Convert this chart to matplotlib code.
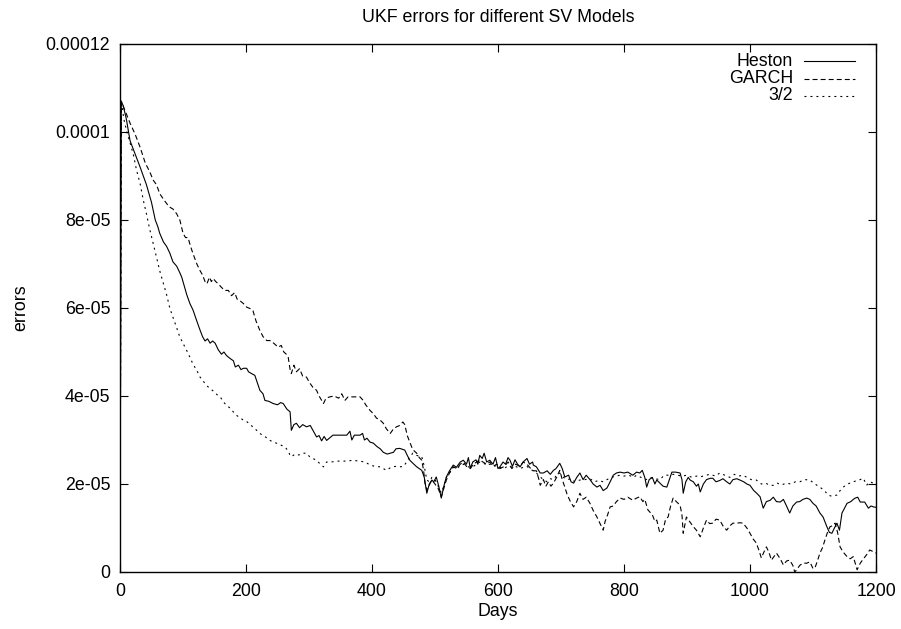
import numpy as np
import matplotlib.pyplot as plt

plt.rcParams['font.family'] = ['Liberation Sans', 'DejaVu Sans']
plt.rcParams['lines.scale_dashes'] = False

# values are in units of 1e-5
heston_days = [0, 2, 5, 10, 16, 24, 32, 42, 50, 56, 60, 63, 69, 74, 79, 84, 90, 95, 98, 102,
               106, 111, 116, 122, 127, 131, 135, 139, 143, 147, 151, 156, 161, 165, 169, 175,
               180, 183, 188, 192, 196, 201, 204, 210, 214, 218, 222, 227, 230, 236, 243, 250,
               255, 259, 265, 270, 272, 276, 280, 285, 290, 296, 302, 307, 312, 316, 320, 324,
               328, 333, 338, 350, 360, 365, 368, 372, 381, 385, 388, 392, 397, 402, 408, 413,
               418, 424, 429, 434, 438, 444, 452, 456, 460, 465, 471, 475, 479, 483, 487, 490,
               495, 498, 502, 506, 510, 514, 518, 523, 529, 534, 540, 545, 550, 553, 556, 560,
               565, 568, 571, 575, 578, 582, 587, 592, 596, 600, 603, 608, 612, 616, 619, 623,
               627, 631, 635, 640, 646, 650, 655, 656, 661, 667, 672, 678, 683, 688, 692, 698,
               702, 706, 712, 716, 720, 725, 730, 735, 740, 746, 751, 757, 762, 767, 773, 778,
               783, 788, 794, 800, 806, 814, 820, 825, 829, 833, 836, 840, 845, 849, 852, 857,
               862, 868, 872, 876, 882, 889, 892, 894, 898, 902, 905, 910, 915, 918, 921, 926,
               931, 937, 941, 946, 952, 957, 963, 968, 973, 979, 984, 990, 995, 1000, 1006, 1010,
               1016, 1021, 1026, 1032, 1037, 1042, 1048, 1053, 1058, 1063, 1068, 1074, 1079, 1084,
               1090, 1095, 1100, 1105, 1111, 1116, 1122, 1126, 1130, 1134, 1138, 1142, 1146, 1150,
               1154, 1160, 1164, 1167, 1171, 1175, 1182, 1188, 1192, 1196, 1200]
heston_err = [0, 10.7, 10.6, 10.3, 9.8, 9.5, 9.2, 8.8, 8.4, 8.0, 7.85, 7.7, 7.5, 7.4, 7.25, 7.05,
              6.95, 6.8, 6.7, 6.5, 6.3, 6.1, 5.95, 5.7, 5.5, 5.35, 5.25, 5.3, 5.2, 5.25, 5.2, 5.05,
              4.95, 5.0, 4.92, 4.85, 4.8, 4.66, 4.7, 4.6, 4.63, 4.63, 4.55, 4.5, 4.47, 4.3, 4.13,
              4.05, 3.9, 3.88, 3.83, 3.8, 3.85, 3.83, 3.7, 3.64, 3.22, 3.35, 3.38, 3.28, 3.35, 3.3,
              3.33, 3.2, 3.07, 3.1, 2.98, 3.08, 2.99, 3.05, 3.11, 3.11, 3.11, 3.2, 3.0, 3.11, 3.11,
              3.15, 3.0, 3.04, 2.95, 2.93, 2.85, 2.8, 2.72, 2.68, 2.7, 2.72, 2.8, 2.81, 2.77, 2.65,
              2.54, 2.47, 2.39, 2.35, 2.31, 2.15, 1.79, 1.95, 2.09, 2.05, 2.16, 1.95, 1.68, 1.95,
              2.16, 2.3, 2.43, 2.38, 2.5, 2.54, 2.45, 2.6, 2.36, 2.5, 2.55, 2.45, 2.65, 2.58, 2.7,
              2.5, 2.54, 2.45, 2.6, 2.35, 2.39, 2.5, 2.45, 2.6, 2.54, 2.4, 2.55, 2.45, 2.39, 2.5,
              2.58, 2.45, 2.5, 2.43, 2.39, 2.25, 2.25, 2.3, 2.22, 2.31, 2.35, 2.47, 2.35, 2.16, 2.2,
              2.05, 2.02, 2.15, 2.25, 2.1, 2.2, 2.1, 2.0, 1.93, 1.97, 1.85, 1.91, 2.05, 2.2, 2.25,
              2.27, 2.25, 2.27, 2.2, 2.27, 2.25, 2.31, 2.15, 1.93, 2.1, 2.15, 2.0, 2.09, 2.02, 1.95,
              1.93, 2.1, 2.27, 2.27, 2.25, 2.1, 1.79, 2.05, 2.15, 2.09, 2.05, 1.95, 2.0, 1.82, 2.0,
              2.1, 2.13, 2.13, 2.05, 2.08, 2.12, 2.05, 2.0, 2.1, 2.12, 2.09, 2.05, 2.0, 1.97, 1.85,
              1.8, 1.71, 1.45, 1.6, 1.63, 1.7, 1.6, 1.59, 1.65, 1.5, 1.34, 1.5, 1.59, 1.6, 1.65,
              1.68, 1.65, 1.56, 1.5, 1.34, 1.25, 1.03, 0.9, 0.88, 1.0, 1.11, 0.95, 1.34, 1.45, 1.56,
              1.6, 1.65, 1.68, 1.7, 1.59, 1.59, 1.45, 1.5, 1.48, 1.47]

garch_days = [0, 2, 9, 16, 24, 32, 40, 47, 53, 58, 63, 70, 78, 84, 90, 95, 100, 104, 108, 112,
              116, 122, 127, 131, 135, 138, 142, 145, 148, 152, 156, 161, 166, 172, 177, 182, 186,
              190, 196, 201, 206, 211, 216, 222, 227, 233, 238, 244, 251, 256, 260, 264, 267, 270,
              272, 276, 280, 285, 290, 296, 301, 306, 312, 316, 320, 323, 327, 333, 340, 347, 352,
              357, 362, 370, 381, 386, 390, 397, 402, 407, 413, 418, 423, 429, 434, 439, 444, 449,
              452, 456, 460, 463, 467, 471, 475, 479, 482, 484, 487, 491, 495, 500, 505, 510, 514,
              518, 523, 529, 535, 540, 545, 550, 556, 561, 566, 571, 576, 582, 587, 592, 598, 603,
              610, 616, 622, 628, 635, 640, 646, 652, 656, 661, 665, 667, 672, 676, 680, 684, 688,
              693, 698, 702, 706, 710, 715, 720, 725, 730, 735, 740, 746, 751, 757, 762, 767, 770,
              774, 778, 783, 788, 794, 800, 806, 814, 820, 825, 830, 833, 838, 845, 849, 852, 857,
              862, 866, 870, 874, 878, 883, 889, 892, 894, 899, 904, 910, 915, 921, 926, 931, 936,
              941, 946, 952, 957, 963, 968, 973, 979, 984, 989, 995, 1000, 1005, 1010, 1014, 1018,
              1022, 1026, 1030, 1034, 1038, 1042, 1048, 1053, 1058, 1063, 1068, 1071, 1074, 1079,
              1084, 1090, 1095, 1100, 1103, 1107, 1111, 1115, 1119, 1123, 1127, 1131, 1135, 1139,
              1143, 1148, 1154, 1159, 1164, 1168, 1170, 1175, 1180, 1185, 1190, 1196, 1200]
garch_err = [0, 10.7, 10.45, 10.2, 9.95, 9.65, 9.3, 9.1, 8.9, 8.8, 8.6, 8.45, 8.3, 8.25, 8.14,
             8.0, 7.7, 7.6, 7.6, 7.4, 7.23, 7.0, 6.85, 6.75, 6.6, 6.55, 6.7, 6.6, 6.67, 6.6, 6.55,
             6.47, 6.4, 6.4, 6.28, 6.35, 6.2, 6.17, 6.1, 6.02, 5.99, 5.94, 5.7, 5.49, 5.35, 5.26,
             5.26, 5.2, 5.11, 5.15, 5.0, 4.95, 4.88, 4.6, 4.51, 4.7, 4.55, 4.62, 4.45, 4.43, 4.3,
             4.2, 4.13, 4.0, 3.9, 3.83, 3.95, 3.98, 4.0, 3.95, 4.05, 3.9, 3.98, 3.98, 3.98, 3.9,
             3.8, 3.67, 3.6, 3.5, 3.45, 3.38, 3.25, 3.15, 3.25, 3.3, 3.33, 3.41, 3.35, 3.1, 2.95,
             2.84, 2.75, 2.7, 2.6, 2.54, 2.3, 2.02, 1.86, 2.0, 2.09, 2.0, 1.9, 1.71, 1.9, 2.09,
             2.25, 2.39, 2.35, 2.45, 2.5, 2.4, 2.35, 2.45, 2.5, 2.55, 2.5, 2.45, 2.5, 2.4, 2.45,
             2.35, 2.4, 2.5, 2.35, 2.45, 2.4, 2.5, 2.45, 2.35, 2.3, 2.3, 2.1, 1.97, 2.1, 1.95, 2.05,
             1.95, 2.02, 2.15, 2.31, 2.1, 1.93, 1.75, 1.6, 1.48, 1.6, 1.79, 1.65, 1.7, 1.56, 1.4,
             1.25, 1.1, 0.95, 1.15, 1.3, 1.48, 1.5, 1.6, 1.68, 1.65, 1.7, 1.63, 1.68, 1.71, 1.6,
             1.65, 1.41, 1.3, 1.15, 1.18, 0.88, 0.95, 1.2, 1.25, 1.5, 1.68, 1.6, 1.52, 1.3, 0.88,
             1.25, 1.15, 1.03, 0.95, 0.8, 1.0, 1.18, 1.1, 1.11, 1.2, 1.18, 1.05, 0.95, 1.05, 1.11,
             1.11, 1.12, 1.11, 1.0, 0.88, 0.75, 0.66, 0.5, 0.32, 0.45, 0.57, 0.45, 0.27, 0.35,
             0.43, 0.3, 0.16, 0.25, 0.27, 0.15, 0.0, 0.05, 0.15, 0.2, 0.2, 0.23, 0.08, 0.09, 0.25,
             0.43, 0.55, 0.73, 0.9, 1.03, 1.05, 1.11, 0.9, 0.57, 0.45, 0.35, 0.3, 0.35, 0.15, 0.05,
             0.2, 0.3, 0.39, 0.5, 0.46, 0.43]

sv32_days = [0, 2, 6, 11, 16, 21, 26, 32, 37, 42, 47, 53, 58, 63, 68, 74, 79, 85, 90, 95, 100,
             106, 111, 116, 122, 127, 133, 138, 143, 149, 154, 159, 165, 170, 175, 181, 186, 191,
             196, 201, 207, 212, 217, 222, 227, 233, 238, 244, 250, 256, 262, 267, 270, 272, 278,
             284, 290, 296, 301, 306, 312, 318, 323, 328, 335, 345, 355, 365, 370, 380, 389, 397,
             405, 413, 423, 430, 437, 444, 450, 455, 460, 465, 471, 479, 483, 487, 491, 495, 500,
             505, 510, 514, 518, 523, 529, 535, 540, 545, 550, 556, 561, 566, 571, 577, 582, 587,
             593, 598, 603, 610, 616, 622, 628, 635, 640, 646, 652, 656, 661, 667, 672, 678, 683,
             688, 693, 698, 704, 710, 716, 722, 730, 738, 746, 753, 760, 767, 773, 780, 787, 794,
             800, 808, 815, 820, 827, 835, 842, 849, 857, 864, 870, 878, 885, 892, 900, 908, 915,
             921, 930, 937, 945, 952, 960, 968, 975, 982, 989, 995, 1002, 1010, 1018, 1025, 1031,
             1037, 1043, 1050, 1058, 1065, 1072, 1079, 1087, 1095, 1103, 1111, 1118, 1124, 1130,
             1138, 1143, 1148, 1155, 1164, 1170, 1175, 1180, 1185, 1190, 1196, 1200]
sv32_err = [0, 10.7, 10.3, 10.0, 9.75, 9.5, 9.15, 8.82, 8.45, 8.14, 7.8, 7.45, 7.15, 6.85, 6.6,
            6.3, 6.0, 5.75, 5.55, 5.34, 5.2, 5.03, 4.88, 4.72, 4.58, 4.43, 4.32, 4.23, 4.17, 4.1,
            4.03, 3.98, 3.85, 3.78, 3.72, 3.62, 3.55, 3.5, 3.45, 3.42, 3.35, 3.28, 3.22, 3.15,
            3.1, 3.05, 2.99, 2.95, 2.92, 2.88, 2.84, 2.75, 2.65, 2.62, 2.68, 2.66, 2.7, 2.7, 2.62,
            2.58, 2.54, 2.45, 2.39, 2.5, 2.5, 2.52, 2.52, 2.53, 2.54, 2.52, 2.5, 2.43, 2.4, 2.39,
            2.31, 2.38, 2.4, 2.39, 2.4, 2.5, 2.62, 2.7, 2.65, 2.62, 2.4, 2.09, 2.05, 2.15, 2.1,
            1.95, 1.8, 1.95, 2.15, 2.25, 2.38, 2.35, 2.42, 2.45, 2.4, 2.38, 2.4, 2.45, 2.5, 2.48,
            2.42, 2.45, 2.4, 2.42, 2.38, 2.35, 2.42, 2.38, 2.4, 2.35, 2.38, 2.4, 2.33, 2.3, 2.25,
            2.16, 2.1, 2.05, 2.12, 2.1, 2.2, 2.25, 2.15, 2.1, 2.12, 2.05, 2.09, 2.1, 2.12, 2.05,
            2.08, 2.05, 2.1, 2.15, 2.18, 2.2, 2.18, 2.2, 2.15, 2.2, 2.15, 2.1, 2.15, 2.12, 2.1,
            2.2, 2.2, 2.22, 2.2, 2.18, 2.2, 2.15, 2.18, 2.16, 2.2, 2.22, 2.18, 2.25, 2.2, 2.15,
            2.22, 2.18, 2.2, 2.15, 2.1, 2.09, 2.0, 2.02, 1.97, 1.97, 2.02, 1.98, 2.02, 2.0, 2.05,
            2.05, 2.1, 2.09, 2.0, 1.93, 1.85, 1.75, 1.72, 1.75, 1.85, 1.93, 2.0, 2.05, 2.08, 2.1,
            2.13, 1.97, 2.05, 2.02, 2.02]

fig = plt.figure(figsize=(9.01, 6.29), dpi=100)
ax = fig.add_axes([120 / 901, 57 / 629, 756 / 901, 528 / 629])

scale = 1e-5
ax.plot(heston_days, np.array(heston_err) * scale, color='black', lw=0.8)
ax.plot(garch_days, np.array(garch_err) * scale, color='black', lw=0.8, dashes=(3.6, 2.2))
ax.plot(sv32_days, np.array(sv32_err) * scale, color='black', lw=0.8, dashes=(1.4, 2.9))

ax.set_xlim(0, 1200)
ax.set_ylim(0, 0.00012)
ax.set_xticks(range(0, 1201, 200))
yticks = [0, 2e-5, 4e-5, 6e-5, 8e-5, 1e-4, 1.2e-4]
ax.set_yticks(yticks)
ax.set_yticklabels(['0', '2e-05', '4e-05', '6e-05', '8e-05', '0.0001', '0.00012'])

ax.tick_params(direction='in', length=6, width=0.8, top=True, right=True,
               labelsize=12.8, pad=7)
ax.tick_params(axis='x', pad=8)
for s in ax.spines.values():
    s.set_linewidth(1.0)

ax.set_title('UKF errors for different SV Models', fontsize=12.8, pad=16)
ax.set_xlabel('Days', fontsize=12.8, labelpad=2)
ax.set_ylabel('errors', fontsize=12.8, labelpad=12)

# gnuplot style key: label right-aligned, sample line to its right
labels = ['Heston', 'GARCH', '3/2']
styles = [None, (3.6, 2.2), (1.4, 2.9)]
for i, (lab, ds) in enumerate(zip(labels, styles)):
    yk = 1 - (17 + 17.5 * i) / 528
    ax.text(1 - 83 / 756, yk, lab, transform=ax.transAxes, ha='right', va='center',
            fontsize=12.8)
    kw = {'dashes': ds} if ds else {}
    ax.plot([1 - 72 / 756, 1 - 21 / 756], [yk, yk], transform=ax.transAxes,
            color='black', lw=0.8, **kw)

fig.savefig('out.png', dpi=100)
